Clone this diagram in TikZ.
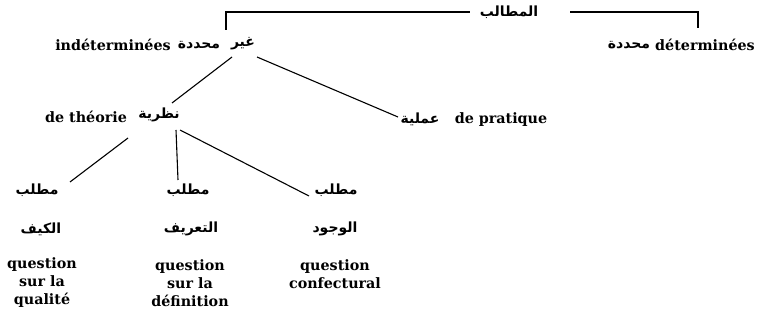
\documentclass[tikz,border=0pt]{standalone}
\usepackage{fontspec}
\setmainfont{DejaVu Serif}
\newfontfamily\arabicfont[Script=Arabic]{DejaVu Sans}
\TeXXeTstate=1
\newcommand{\arb}[1]{{\arabicfont\bfseries\beginR #1\endR}}
\begin{document}
\begin{tikzpicture}[x=1pt,y=-1pt,
  fr/.style={font=\bfseries\fontsize{14.3}{18}\selectfont, inner sep=0pt, align=center},
  ar/.style={font=\fontsize{14}{18}\selectfont, inner sep=0pt},
  link/.style={line width=1.1pt}]
\useasboundingbox (0,0) rectangle (757,323);
\node[ar] (matalib) at (509,12) {\arb{المطالب}};
\node[ar] (ghayr) at (243,44) {\arb{غير}};
\node[ar] (muh1) at (199,45) {\arb{محددة}};
\node[fr] (indet) at (113,45) {indéterminées};
\node[ar] (muh2) at (629,45) {\arb{محددة}};
\node[fr] (det) at (705,45) {déterminées};
\node[ar] (nazar) at (159,115) {\arb{نظرية}};
\node[fr] (theorie) at (86,117) {de théorie};
\node[ar] (amal) at (420,119) {\arb{عملية}};
\node[fr] (prat) at (501,120) {de pratique};
\node[ar] (m1) at (37,190) {\arb{مطلب}};
\node[ar] (m2) at (188,190) {\arb{مطلب}};
\node[ar] (m3) at (336,190) {\arb{مطلب}};
\node[ar] (k1) at (41,229) {\arb{الكيف}};
\node[ar] (k2) at (191,229) {\arb{التعريف}};
\node[ar] (k3) at (335,229) {\arb{الوجود}};
\node[fr] (q1) at (42,283) {question\\sur la\\qualité};
\node[fr] (q2) at (190,283) {question\\sur la\\définition};
\node[fr] (q3) at (335,274) {question\\confectural};
\coordinate (tl) at (226,30);
\coordinate (tr) at (698,28);
\draw[link] (tl) |- ([xshift=-39pt]matalib.center);
\draw[link] ([xshift=61pt]matalib.center) -| (tr);
\draw[link] ([shift={(-11,13)}]ghayr.center) -- ([shift={(13,-12)}]nazar.center);
\draw[link] ([shift={(14,13)}]ghayr.center) -- ([shift={(-22,-2)}]amal.center);
\draw[link] ([shift={(-31,23)}]nazar.center) -- ([shift={(33,-8)}]m1.center);
\draw[link] ([shift={(17,15)}]nazar.center) -- ([shift={(-10,-10)}]m2.center);
\draw[link] ([shift={(21,15)}]nazar.center) -- ([shift={(-27,6)}]m3.center);
\end{tikzpicture}
\end{document}
